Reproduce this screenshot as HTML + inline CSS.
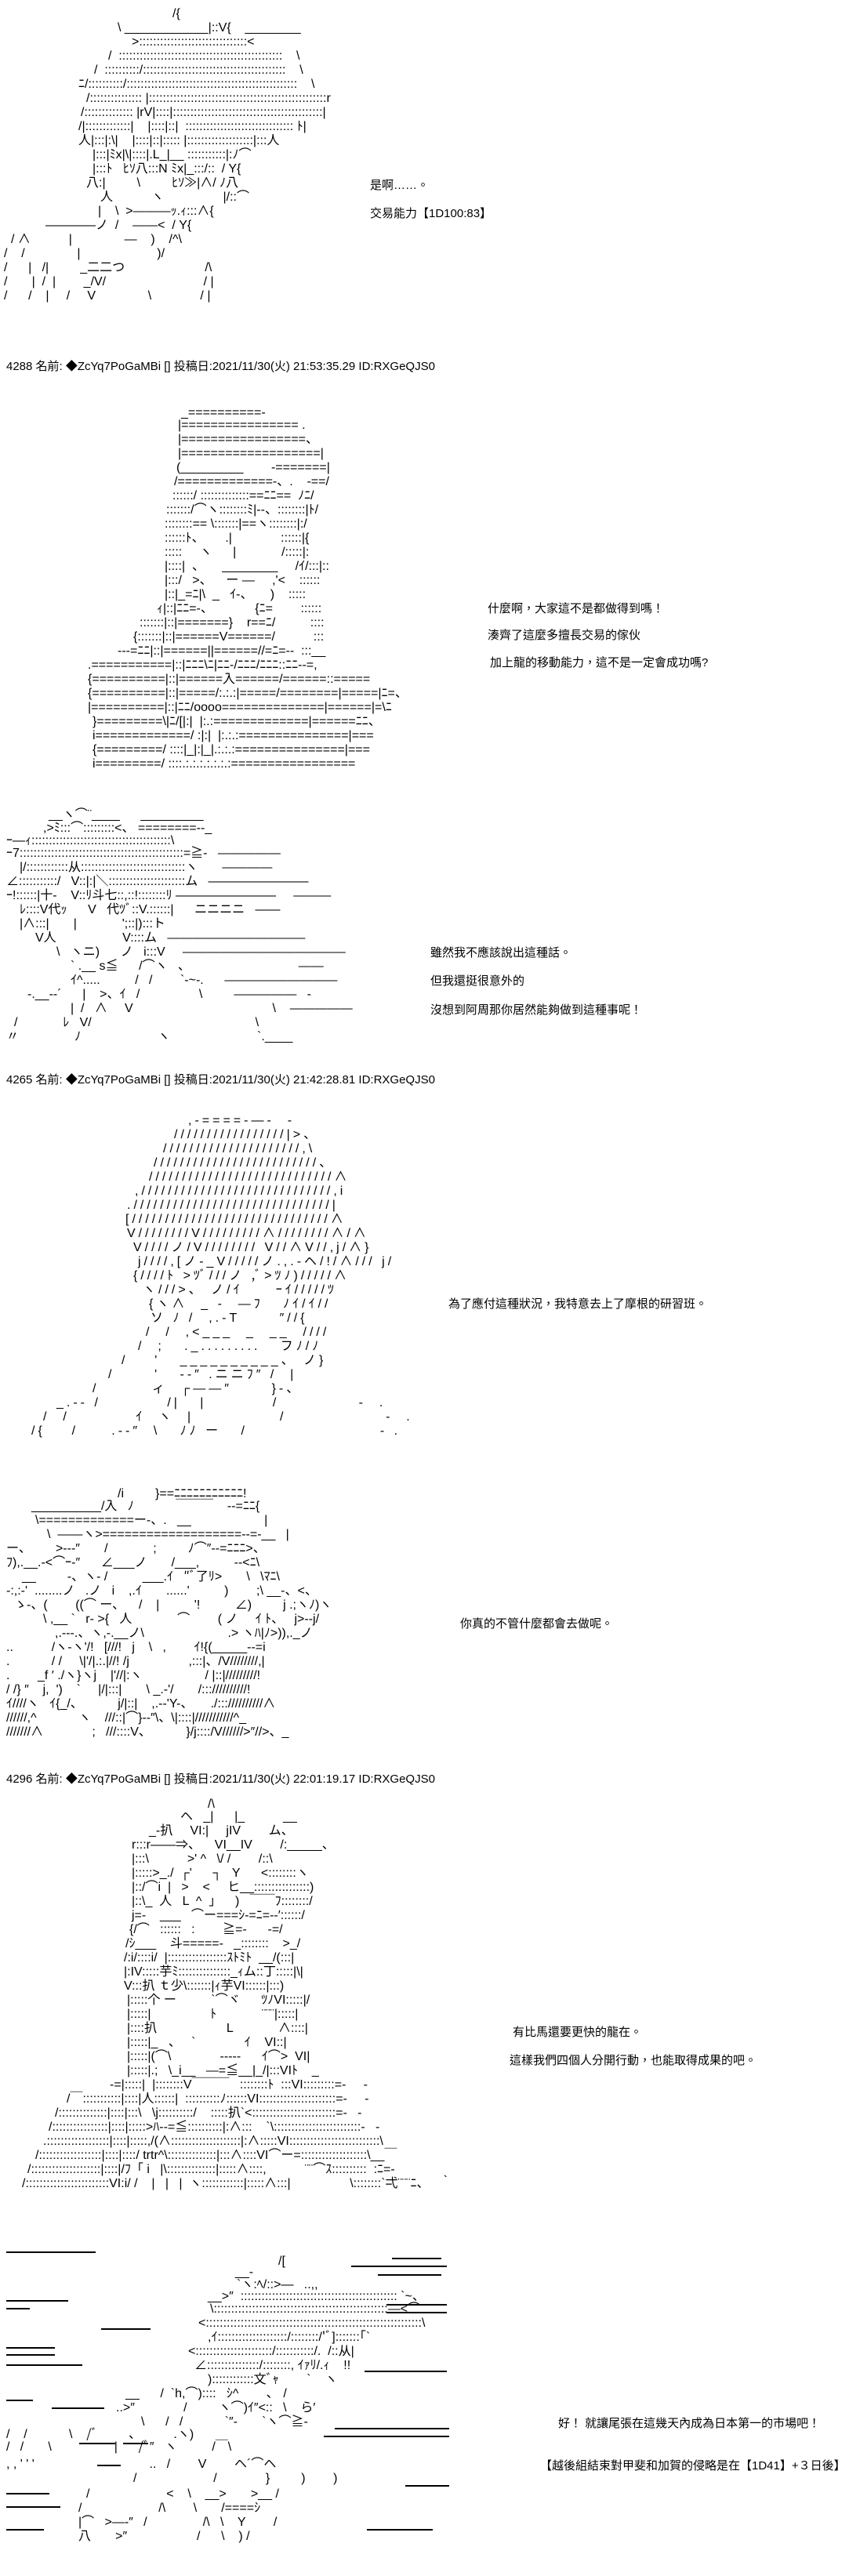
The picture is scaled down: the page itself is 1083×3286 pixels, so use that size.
<!DOCTYPE html>
<html><head><meta charset="utf-8">
<style>
html,body{margin:0;padding:0;background:#fff;}
body{width:1083px;height:3286px;position:relative;overflow:hidden;font-family:"Liberation Sans","Noto Sans CJK JP",sans-serif;color:#000;}
.a{position:absolute;white-space:pre;font-size:16px;line-height:18px;}
.w{letter-spacing:4px;}
.t{position:absolute;white-space:pre;font-size:15px;line-height:18px;font-family:"Liberation Sans","Noto Sans CJK TC",sans-serif;}
.h{position:absolute;left:8px;white-space:pre;font-size:15px;line-height:18px;font-family:"Liberation Sans","Noto Sans CJK TC",sans-serif;}
.l{position:absolute;height:0;border-top:2px solid #000;}
</style></head><body>

<!-- ART 1 -->
<div class="a" style="left:220px;top:9px">/{</div>
<div class="a" style="left:150px;top:27px">\ ____________|::V{    ________</div>
<div class="a" style="left:168px;top:45px">&gt;:::::::::::::::::::::::::::::::&lt;</div>
<div class="a" style="left:138px;top:63px">/  :::::::::::::::::::::::::::::::::::::::::::::::    \</div>
<div class="a" style="left:120px;top:81px">/  ::::::::::/:::::::::::::::::::::::::::::::::::::::::    \</div>
<div class="a" style="left:100px;top:99px">ﾆ/::::::::::/:::::::::::::::::::::::::::::::::::::::::::::::::    \</div>
<div class="a" style="left:110px;top:117px">/::::::::::::::: |:::::::::::::::::::::::::::::::::::::::::::::::::::r</div>
<div class="a" style="left:103px;top:135px">/:::::::::::::: |rV|::::|:::::::::::::::::::::::::::::::::::::::::::|</div>
<div class="a" style="left:100px;top:153px">/|:::::::::::::|    |::::|::|  ::::::::::::::::::::::::::::::: ﾄ|</div>
<div class="a" style="left:100px;top:171px">人|:::|:\|    |::::|::|::::: |:::::::::::::::::::|:::人</div>
<div class="a" style="left:118px;top:189px">|:::|ﾐx|\|::::|.L_|__ :::::::::::|:ﾉ⌒</div>
<div class="a" style="left:118px;top:207px">|:::ﾄ   ﾋｿ八:::N ﾐx|_:::/::  / Y{</div>
<div class="a" style="left:110px;top:225px">八:|         \         ﾋｿ≫|∧/ ﾉ八</div>
<div class="a" style="left:128px;top:243px">人           ヽ                 |/::⌒</div>
<div class="a" style="left:125px;top:261px">|    \  &gt;―――ｯ.ｨ:::∧{</div>
<div class="a" style="left:58px;top:279px">――――ノ  /    ――&lt;  / Y{</div>
<div class="a" style="left:14px;top:297px">/ ∧           |               ―    )    /^\</div>
<div class="a" style="left:5px;top:315px">/    /               |                      )/</div>
<div class="a" style="left:5px;top:333px">/      |   /|         _二二つ                       /\</div>
<div class="a" style="left:5px;top:351px">/       |  /  |        _/V/                            / |</div>
<div class="a" style="left:5px;top:369px">/      /    |     /     V               \              / |</div>

<div class="t" style="left:472px;top:228px">是啊……。</div>
<div class="t" style="left:472px;top:264px">交易能力【1D100:83】</div>

<div class="h" style="top:459px">4288 名前: ◆ZcYq7PoGaMBi [] 投稿日:2021/11/30(火) 21:53:35.29 ID:RXGeQJS0</div>

<!-- ART 2 -->
<div class="a" style="left:231px;top:518px">_==========-</div>
<div class="a" style="left:227px;top:534px">|================ .</div>
<div class="a" style="left:227px;top:552px">|=================、</div>
<div class="a" style="left:227px;top:570px">|===================|</div>
<div class="a" style="left:225px;top:588px">(_________        -=======|</div>
<div class="a" style="left:222px;top:606px">/=============-、.    -==/</div>
<div class="a" style="left:220px;top:624px">::::::/ ::::::::::::::==ﾆﾆ==  ﾉﾆ/</div>
<div class="a" style="left:212px;top:642px">:::::::/⌒ヽ::::::::ﾐ|--、::::::::|ﾄ/</div>
<div class="a" style="left:210px;top:660px">::::::::== \:::::::|==ヽ::::::::|:/</div>
<div class="a" style="left:210px;top:678px">::::::ﾄ、      .|              ::::::|{</div>
<div class="a" style="left:210px;top:696px">:::::     ヽ      |             /:::::|:</div>
<div class="a" style="left:210px;top:714px">|::::|  、     ________     /ｲ/:::|::</div>
<div class="a" style="left:210px;top:732px">|:::/   &gt;、    ー ―     ,'&lt;    ::::::</div>
<div class="a" style="left:210px;top:750px">|::|_=ﾆ|\  _   ｲ-、     )    :::::</div>
<div class="a" style="left:200px;top:768px">ｨ|::|ﾆﾆ=-、            {ﾆ=        ::::::</div>
<div class="a" style="left:178px;top:786px">:::::::|::|=======}    r==ﾆ/          ::::</div>
<div class="a" style="left:170px;top:804px">{:::::::|::|======V======/           :::</div>
<div class="a" style="left:150px;top:822px">---=ﾆﾆ|::|======||======//=ﾆ=--  :::__</div>
<div class="a" style="left:112px;top:840px">.===========|::|ﾆﾆﾆ\ﾆ|ﾆﾆ-/ﾆﾆﾆ/ﾆﾆﾆ::ﾆﾆ--=,</div>
<div class="a" style="left:112px;top:858px">{==========|::|======入======/======::=====</div>
<div class="a" style="left:112px;top:876px">{==========|::|=====/:.:.:|=====/========|=====|ﾆ=、</div>
<div class="a" style="left:112px;top:894px">|==========|::|ﾆﾆ/oooo==============|======|=\ﾆ</div>
<div class="a" style="left:118px;top:912px">}=========\|ﾆ/[|:|  |:.:=============|======ﾆﾆ、</div>
<div class="a" style="left:118px;top:930px">i=============/ :|:|  |:.:.:===============|===</div>
<div class="a" style="left:118px;top:948px">{=========/ ::::|_|:|_|.:.:.:===============|===</div>
<div class="a" style="left:118px;top:966px">i=========/ ::::.:.:.:.:.:.:.:=================</div>

<div class="t" style="left:622px;top:768px">什麼啊，大家這不是都做得到嗎！</div>
<div class="t" style="left:622px;top:802px">湊齊了這麼多擅長交易的傢伙</div>
<div class="t" style="left:625px;top:837px">加上龍的移動能力，這不是一定會成功嗎?</div>

<!-- ART 3 -->
<div class="a" style="left:62px;top:1031px">__ヽ⌒¨____      _________</div>
<div class="a" style="left:55px;top:1048px">,&gt;ﾐ:::⌒:::::::::&lt;、 ========--_</div>
<div class="a" style="left:8px;top:1064px">ｰ―ｨ::::::::::::::::::::::::::::::::::::::::\</div>
<div class="a" style="left:8px;top:1080px">ｰ7:::::::::::::::::::::::::::::::::::::::::::::::=≧-   ―――――</div>
<div class="a" style="left:25px;top:1098px">|/::::::::::::从::::::::::::::::::::::::::::::ヽ       ――――</div>
<div class="a" style="left:8px;top:1116px">∠:::::::::::/   V::|:|＼::::::::::::::::::::::ム   ――――――――</div>
<div class="a" style="left:8px;top:1134px">ｰ!::::::|十-    V::ﾘ斗七::,::!::::::::ﾘ ――――――――     ―――</div>
<div class="a" style="left:25px;top:1152px">ﾚ::::V代ｯ      V   代ﾂﾞ::V.::::::|      ニニニニ   ――</div>
<div class="a" style="left:25px;top:1170px">|∧:::|       |             ';::|):::ト</div>
<div class="a" style="left:45px;top:1188px">V人                   V::::ム   ―――――――――――</div>
<div class="a" style="left:72px;top:1206px">\   ヽニ)      ノ   i:::V     ―――――――――――――</div>
<div class="a" style="left:90px;top:1224px">` .__ s≦      /⌒ヽ   、                               ――</div>
<div class="a" style="left:90px;top:1242px">ｲ^.....          /   /        `‐~-.      ―――――――――</div>
<div class="a" style="left:35px;top:1260px">-.__-‐´      |    &gt;、ｲ   /                 \         ―――――   -</div>
<div class="a" style="left:90px;top:1278px">|  /   ∧     V                                        \    ―――――</div>
<div class="a" style="left:18px;top:1296px">/             ﾚ   V/                                               \</div>
<div class="a" style="left:8px;top:1314px">〃                ﾉ                      ヽ                         `.____</div>

<div class="t" style="left:549px;top:1207px">雖然我不應該說出這種話。</div>
<div class="t" style="left:549px;top:1243px">但我還挺很意外的</div>
<div class="t" style="left:549px;top:1280px">沒想到阿周那你居然能夠做到這種事呢！</div>

<div class="h" style="top:1369px">4265 名前: ◆ZcYq7PoGaMBi [] 投稿日:2021/11/30(火) 21:42:28.81 ID:RXGeQJS0</div>

<!-- ART 4 -->
<div class="a w" style="left:240px;top:1421px">,-====-―-  -</div>
<div class="a w" style="left:222px;top:1439px">/////////////////|&gt;、</div>
<div class="a w" style="left:208px;top:1457px">/////////////////////,\</div>
<div class="a w" style="left:196px;top:1475px">/////////////////////////、</div>
<div class="a w" style="left:190px;top:1493px">////////////////////////////∧</div>
<div class="a w" style="left:172px;top:1511px">,/////////////////////////////,i</div>
<div class="a w" style="left:162px;top:1529px">.//////////////////////////////|</div>
<div class="a w" style="left:160px;top:1547px">[//////////////////////////////∧</div>
<div class="a w" style="left:162px;top:1565px">V////////V/////////∧////////∧/∧</div>
<div class="a w" style="left:170px;top:1583px">V////ノ/V//////// V//∧V//,j/∧}</div>
<div class="a w" style="left:176px;top:1601px">j////,[ノ-_V/////ノ.,.-ヘ/!/∧/// j/</div>
<div class="a w" style="left:170px;top:1619px">{////ﾄ &gt;ﾂﾞ///ノ ,ﾞ&gt;ﾂﾉ)/////∧</div>
<div class="a w" style="left:182px;top:1637px">ヽ///&gt;、 ノ/ｲ     ｰｲ/////ﾂ</div>
<div class="a w" style="left:190px;top:1655px">{ヽ∧  _ -  ―ﾌ   ﾉｲ/ｲ//</div>
<div class="a w" style="left:192px;top:1673px">ソ ﾉ /  ,.-T      ″//{</div>
<div class="a w" style="left:186px;top:1691px">/  /  ,&lt;___  _  __  ////</div>
<div class="a w" style="left:176px;top:1709px">/  ;   ._.........   フﾉ/ﾉ</div>
<div class="a w" style="left:155px;top:1727px">/    '   __________、 ノ}</div>
<div class="a w" style="left:138px;top:1745px">/      '   -‐″ .ニニﾌ″ /  |</div>
<div class="a w" style="left:118px;top:1763px">/        ィ  ┌――″      }‐、</div>
<div class="a w" style="left:72px;top:1781px">_.-‐ /          /|   |          /            -  .</div>
<div class="a w" style="left:55px;top:1799px">/  /          ｲ  ヽ  |             /               -  .</div>
<div class="a w" style="left:40px;top:1817px">/{    /     .-‐″  \   ﾉﾉ ー   /                    - .</div>

<div class="t" style="left:572px;top:1655px">為了應付這種狀況，我特意去上了摩根的研習班。</div>

<!-- ART 5 -->
<div class="a" style="left:150px;top:1897px">/i         }==ﾆﾆﾆﾆﾆﾆﾆﾆﾆﾆﾆ!</div>
<div class="a" style="left:40px;top:1913px">__________/入   ﾉ            ￣￣￣    -‐=ﾆﾆ{</div>
<div class="a" style="left:45px;top:1931px">\=============ー-、.   __                     |</div>
<div class="a" style="left:60px;top:1949px">\  ――ヽ&gt;===================--=-__   |</div>
<div class="a" style="left:8px;top:1967px">ー、       &gt;-‐‐″       /             ;         ﾉ⌒″‐-=ﾆﾆﾆ&gt;、</div>
<div class="a" style="left:8px;top:1985px">ﾌ),.__.-&lt;⌒ｰ-″      ∠___ノ       /___,          ‐-&lt;ﾆ\</div>
<div class="a" style="left:28px;top:2003px">__         -、ヽ- /          ___.ｲ   ″ﾞ了ﾘ&gt;       \   \ﾏﾆ\</div>
<div class="a" style="left:8px;top:2021px">-:,:-'  ........ノ   .ノ   i    ,.ｲ       ......'          )        ;\ __-、&lt;、</div>
<div class="a" style="left:18px;top:2039px">ゝ-、(        ((⌒ ー、    /    |          '!          ∠)         j .;ヽﾉ)ヽ</div>
<div class="a" style="left:55px;top:2057px">\ ,__ `   r‐ &gt;{   人             ⌒        ( ノ     ｲ ﾄ、   j&gt;--j/</div>
<div class="a" style="left:70px;top:2075px">,.---.、ヽ,-.__ノ\                        .&gt; ヽﾊ|ﾉ&gt;)),._ノ</div>
<div class="a" style="left:8px;top:2093px">..           /ヽ-ヽ'/!   [///!   j    \   ,        ｲ!{(_____--=i</div>
<div class="a" style="left:8px;top:2111px">.            / /     \|'/|.:.|//! /j                 ,:::|、/V////////,|</div>
<div class="a" style="left:8px;top:2129px">.        _f ′ ./ヽ}ヽj    |'//|:ヽ                  / |::|/////////!</div>
<div class="a" style="left:8px;top:2147px">/ /} ″    j,  ')    `     |/|:::|       \ _.-'/       /::://////////!</div>
<div class="a" style="left:8px;top:2165px">ｲ////ヽ   ｲ{_/、          j/|::|    ,.-‐'Y-、     ./::://////////∧</div>
<div class="a" style="left:8px;top:2183px">//////,^            ヽ    ///::|⌒}-‐″\、\|::::|///////////^_</div>
<div class="a" style="left:8px;top:2201px">///////∧              ;   ///::::V、          }/j::::/V//////&gt;″//&gt;、_</div>

<div class="t" style="left:587px;top:2063px">你真的不管什麼都會去做呢。</div>

<div class="h" style="top:2261px">4296 名前: ◆ZcYq7PoGaMBi [] 投稿日:2021/11/30(火) 22:01:19.17 ID:RXGeQJS0</div>

<!-- ART 6 -->
<div class="a" style="left:265px;top:2293px">/\</div>
<div class="a" style="left:230px;top:2309px">ヘ   _|      |_           __</div>
<div class="a" style="left:190px;top:2327px">_-扒     VI:|     jIV        ム、</div>
<div class="a" style="left:168px;top:2345px">r:::r――⇒、    VI__IV        /:_____、</div>
<div class="a" style="left:168px;top:2363px">|:::\           &gt;' ^   \/ /        /::\</div>
<div class="a" style="left:168px;top:2381px">|:::::&gt;_./  ┌'      ┐   Y      &lt;::::::::ヽ</div>
<div class="a" style="left:168px;top:2399px">|::/⌒i  |   &gt;    &lt;     ヒ__::::::::::::::::)</div>
<div class="a" style="left:168px;top:2417px">|::\_  人   L  ^  」    )   ￣￣ﾌ::::::::/</div>
<div class="a" style="left:168px;top:2435px">j=-    ___   ⌒ー===ｼ-=ﾆ=-‐′::::::/</div>
<div class="a" style="left:165px;top:2453px">{/⌒   ::::::   :        ≧=-      -=/</div>
<div class="a" style="left:160px;top:2471px">/ｼ___    斗=====-   _::::::::    &gt;_/</div>
<div class="a" style="left:158px;top:2489px">/:i/::::i/  |:::::::::::::::::ｽﾄﾐﾄ  __/(:::|</div>
<div class="a" style="left:158px;top:2507px">|:IV:::::芋ﾐ:::::::::::::::_ｨム::丁:::::|\|</div>
<div class="a" style="left:158px;top:2525px">V:::扒 ｔ少\:::::::|ｨ芋VI::::::|:::)</div>
<div class="a" style="left:162px;top:2543px">|:::::个 ー          `⌒ヾ      ﾂﾉVI:::::|/</div>
<div class="a" style="left:162px;top:2561px">|:::::|                 ﾄ             ¨¨¨|:::::|</div>
<div class="a" style="left:162px;top:2579px">|::::扒                    L             ∧::::|</div>
<div class="a" style="left:162px;top:2597px">|:::::|_   、   `              ｲ    VI::|</div>
<div class="a" style="left:162px;top:2615px">|:::::|(⌒\              -----      ｲ⌒&gt;  VI|</div>
<div class="a" style="left:162px;top:2633px">|:::::|.;   \_i__   ―=≦__|_/|:::VIﾄ    _</div>
<div class="a" style="left:140px;top:2651px">-=|:::::|  |::::::::V￣￣￣   ::::::::ﾄ  :::VI:::::::::=-     -</div>
<div class="a" style="left:85px;top:2669px">/￣:::::::::::|::::|人::::::|  ::::::::::ﾉ::::::VI::::::::::::::::::::::=-     -</div>
<div class="a" style="left:70px;top:2687px">/::::::::::::::|::::|:::\   \j::::::::::/    :::::扒`&lt;::::::::::::::::::::::::=-   -</div>
<div class="a" style="left:62px;top:2705px">/::::::::::::::::|::::|:::::&gt;ﾊ-‐=≦::::::::::|:∧:::    `\:::::::::::::::::::::::::-   -</div>
<div class="a" style="left:55px;top:2723px">.::::::::::::::::::|::::|:::::,/(∧::::::::::::::::::::|:∧:::::VI::::::::::::::::::::::::::\</div>
<div class="a" style="left:45px;top:2741px">/::::::::::::::::::|::::|::::/ trtr^\::::::::::::::|:::∧::::VI⌒ー=:::::::::::::::::::\__￣</div>
<div class="a" style="left:35px;top:2759px">/::::::::::::::::::::|::::|/ﾌ「 i   |\::::::::::::::|:::::∧::::,           ¨¨⌒ｽ::::::::::  :ﾆ=-</div>
<div class="a" style="left:28px;top:2777px">/::::::::::::::::::::::::VI:i/ /    |   |   |  ヽ::::::::::::|:::::∧:::|                 \::::::::`弌¨¨¨ﾆ、   ｀</div>

<div class="t" style="left:654px;top:2584px">有比馬還要更快的龍在。</div>
<div class="t" style="left:650px;top:2620px">這樣我們四個人分開行動，也能取得成果的吧。</div>

<!-- ART 7 -->
<div class="a" style="left:355px;top:2876px">/[</div>
<div class="a" style="left:300px;top:2890px">__-</div>
<div class="a" style="left:302px;top:2906px">`ヽ:ﾍ/::&gt;―   ..,,</div>
<div class="a" style="left:265px;top:2921px">__&gt;″  ::::::::::::::::::::::::::::::::::::::::::::: `~、</div>
<div class="a" style="left:268px;top:2937px">\::::::::::::::::::::::::::::::::::::::::::::::::::―&lt;⌒</div>
<div class="a" style="left:253px;top:2955px">&lt;::::::::::::::::::::::::::::::::::::::::::::::::::::::::::::::\</div>
<div class="a" style="left:265px;top:2973px">,ｲ::::::::::::::::::::/::::::::/'ﾞ]:::::::｢`</div>
<div class="a" style="left:240px;top:2991px">&lt;::::::::::::::::::::::/:::::::::::/.  /::从|</div>
<div class="a" style="left:248px;top:3009px">∠:::::::::::::::/::::::::, ｲｧﾘ/.ｨ    !!</div>
<div class="a" style="left:265px;top:3027px">)::::::::::::文ﾞｬ        `    ヽ</div>
<div class="a" style="left:160px;top:3045px">__      /  `h,⌒)::::   ｼ^        ､   /</div>
<div class="a" style="left:148px;top:3063px">..&gt;″              /         ヽ⌒)ｲ″&lt;::   \    ら′</div>
<div class="a" style="left:180px;top:3081px">\      /   /            `″-       `ヽ⌒≧-</div>
<div class="a" style="left:8px;top:3097px">/    /            \    /ﾞ         ､           .ヽ)</div>
<div class="a" style="left:8px;top:3113px">/   /       \                  |      /ﾞ″   ヽ          /￣\</div>
<div class="a" style="left:8px;top:3135px">, , ' ' '                                 ..   /        V        ヘ´⌒ヘ</div>
<div class="a" style="left:170px;top:3153px">/                      /              }         )        )</div>
<div class="a" style="left:110px;top:3173px">/                      &lt;    \    __&gt;       &gt;__ /</div>
<div class="a" style="left:100px;top:3191px">/                      /\        \       /====ｼ</div>
<div class="a" style="left:100px;top:3209px">|⌒   &gt;―‐″   /                /\   \    Y        /</div>
<div class="a" style="left:100px;top:3227px">八       &gt;″                    /      \    ) /</div>

<div class="l" style="left:8px;top:2872px;width:114px"></div>
<div class="l" style="left:500px;top:2880px;width:63px"></div>
<div class="l" style="left:448px;top:2890px;width:122px"></div>
<div class="l" style="left:482px;top:2901px;width:81px"></div>
<div class="l" style="left:8px;top:2934px;width:79px"></div>
<div class="l" style="left:8px;top:2944px;width:30px"></div>
<div class="l" style="left:493px;top:2939px;width:77px"></div>
<div class="l" style="left:493px;top:2949px;width:77px"></div>
<div class="l" style="left:129px;top:2970px;width:63px"></div>
<div class="l" style="left:8px;top:2994px;width:62px"></div>
<div class="l" style="left:8px;top:3003px;width:62px"></div>
<div class="l" style="left:8px;top:3016px;width:97px"></div>
<div class="l" style="left:465px;top:3024px;width:105px"></div>
<div class="l" style="left:8px;top:3061px;width:34px"></div>
<div class="l" style="left:66px;top:3071px;width:67px"></div>
<div class="l" style="left:427px;top:3097px;width:146px"></div>
<div class="l" style="left:413px;top:3107px;width:160px"></div>
<div class="l" style="left:101px;top:3116px;width:46px"></div>
<div class="l" style="left:157px;top:3116px;width:32px"></div>
<div class="l" style="left:124px;top:3144px;width:30px"></div>
<div class="l" style="left:517px;top:3170px;width:56px"></div>
<div class="l" style="left:8px;top:3180px;width:55px"></div>
<div class="l" style="left:8px;top:3197px;width:69px"></div>
<div class="l" style="left:8px;top:3226px;width:48px"></div>
<div class="l" style="left:468px;top:3226px;width:84px"></div>

<div class="t" style="left:712px;top:3083px">好！ 就讓尾張在這幾天內成為日本第一的市場吧！</div>
<div class="t" style="left:689px;top:3137px">【越後組結束對甲斐和加賀的侵略是在【1D41】+３日後】</div>

</body></html>
